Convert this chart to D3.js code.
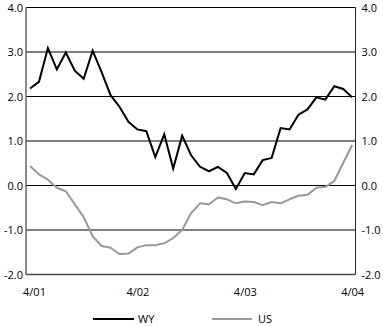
<!DOCTYPE html>
<html>
<head>
<meta charset="utf-8">
<script src="https://cdn.jsdelivr.net/npm/d3@7"></script>
<style>
  html, body { margin: 0; padding: 0; background: #fff; }
  svg { display: block; }
  text { font-family: "Open Sans", "Noto Sans", sans-serif; font-size: 11px; fill: #000; }
</style>
</head>
<body>
<svg id="chart" width="383" height="326"></svg>
<script>
// Monthly data, April 2001 .. April 2004 (37 months)
const months = d3.range(37);
const wyValues = [2.18, 2.33, 3.09, 2.61, 2.99, 2.58, 2.40, 3.03, 2.55, 2.03,
                  1.77, 1.43, 1.26, 1.22, 0.64, 1.15, 0.38, 1.12, 0.68, 0.42,
                  0.32, 0.42, 0.28, -0.08, 0.28, 0.25, 0.57, 0.62, 1.29, 1.26,
                  1.59, 1.71, 1.98, 1.93, 2.23, 2.17, 1.98];
const usValues = [0.44, 0.25, 0.13, -0.05, -0.13, -0.42, -0.71, -1.14, -1.36, -1.40,
                  -1.54, -1.53, -1.39, -1.34, -1.34, -1.30, -1.18, -1.00, -0.62, -0.40,
                  -0.42, -0.27, -0.31, -0.40, -0.36, -0.37, -0.44, -0.37, -0.40, -0.31,
                  -0.23, -0.21, -0.05, -0.03, 0.10, 0.51, 0.91];
const xTickIdx = [0, 12, 24, 36];
const xTickLabels = ["4/01", "4/02", "4/03", "4/04"];
const yTicks = [-2, -1, 0, 1, 2, 3, 4];
const seriesNames = ["WY", "US"];
const seriesColors = ["#000000", "#999999"];

const svg = d3.select("#chart");
const plotLeft = 26, plotRight = 355.5, plotTop = 7.5, plotBottom = 274.5;

const x = d3.scaleLinear().domain([0, 36]).range([30, 352.2]);
const y = d3.scaleLinear().domain([-2, 4]).range([plotBottom, plotTop]);

// gridlines
svg.append("g").selectAll("line").data(yTicks.filter(v => v > -2)).join("line")
  .attr("x1", plotLeft).attr("x2", plotRight)
  .attr("y1", d => y(d)).attr("y2", d => y(d))
  .attr("stroke", "#000").attr("stroke-width", 1);

// axes frame: left, right, bottom
svg.append("line").attr("x1", plotLeft).attr("x2", plotLeft).attr("y1", plotTop).attr("y2", plotBottom)
  .attr("stroke", "#666").attr("stroke-width", 1.5);
svg.append("line").attr("x1", plotRight).attr("x2", plotRight).attr("y1", plotTop).attr("y2", plotBottom)
  .attr("stroke", "#222").attr("stroke-width", 1);
svg.append("line").attr("x1", plotLeft).attr("x2", plotRight).attr("y1", plotBottom).attr("y2", plotBottom)
  .attr("stroke", "#444").attr("stroke-width", 1.5);

// y axes labels via d3 axes
const fmt = d3.format(".1f");
const leftAxis = svg.append("g").attr("transform", `translate(${plotLeft},0)`)
  .call(d3.axisLeft(y).tickValues(yTicks).tickFormat(d => fmt(d).replace("−", "-")).tickSize(0).tickPadding(3));
const rightAxis = svg.append("g").attr("transform", `translate(${plotRight},0)`)
  .call(d3.axisRight(y).tickValues(yTicks).tickFormat(d => fmt(d).replace("−", "-")).tickSize(0).tickPadding(6));
[leftAxis, rightAxis].forEach(a => {
  a.select(".domain").remove();
  a.selectAll("text").style("font-family", '"Open Sans", "Noto Sans", sans-serif').style("font-size", "11px").attr("fill", "#000");
});

// x axis labels
const xAxis = svg.append("g").attr("transform", `translate(0,${plotBottom})`)
  .call(d3.axisBottom(x).tickValues(xTickIdx).tickFormat((d, i) => xTickLabels[i]).tickSize(0).tickPadding(14));
xAxis.select(".domain").remove();
xAxis.selectAll("text").style("font-family", '"Open Sans", "Noto Sans", sans-serif').style("font-size", "11px").attr("fill", "#000");
xAxis.selectAll(".tick").filter((d, i) => i === 0).select("text").attr("dx", 4);

// lines
const line = d3.line().x((d, i) => x(months[i])).y(d => y(d));
svg.append("path").datum(usValues).attr("d", line)
  .attr("fill", "none").attr("stroke", seriesColors[1]).attr("stroke-width", 2).attr("stroke-linejoin", "round");
svg.append("path").datum(wyValues).attr("d", line)
  .attr("fill", "none").attr("stroke", seriesColors[0]).attr("stroke-width", 2).attr("stroke-linejoin", "miter");

// legend
const legend = svg.append("g");
const legendPos = [{x1: 93, x2: 134, tx: 138}, {x1: 212, x2: 252, tx: 258}];
seriesNames.forEach((name, i) => {
  legend.append("line").attr("x1", legendPos[i].x1).attr("x2", legendPos[i].x2)
    .attr("y1", 319).attr("y2", 319).attr("stroke", seriesColors[i]).attr("stroke-width", 2);
  legend.append("text").attr("x", legendPos[i].tx).attr("y", 323).text(name);
});
</script>
</body>
</html>
